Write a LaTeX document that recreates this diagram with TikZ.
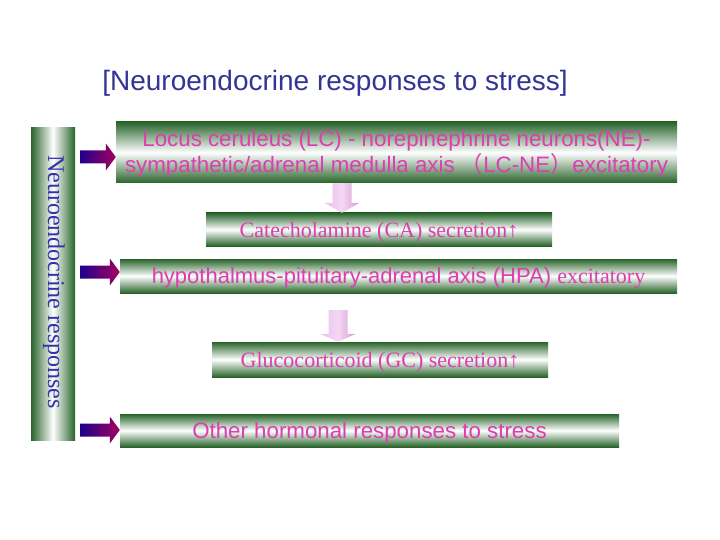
\documentclass[tikz,border=0pt]{standalone}
\usepackage{fontspec}
\setmainfont{Liberation Serif}
\setsansfont{Liberation Sans}
\newfontfamily\cjk{Noto Sans CJK SC}
\usetikzlibrary{calc}
\definecolor{bargreen}{RGB}{40,100,42}
\definecolor{txtpink}{RGB}{222,60,178}
\definecolor{titleblue}{RGB}{52,52,150}
\definecolor{vblue}{RGB}{50,50,170}
\definecolor{arrowblue}{RGB}{30,0,140}
\definecolor{arrowpurple}{RGB}{165,0,95}
\definecolor{pinkfill}{RGB}{236,190,236}
\newcommand\purplearrow[2]{%
  \shade[left color=arrowblue,right color=arrowpurple]
    let \p1=(#1),\p2=(#2) in
    (\x1,\y1+6.5pt) -- (\x2-10pt,\y1+6.5pt) -- (\x2-10pt,\y1+13.5pt) -- (\x2,\y1)
    -- (\x2-10pt,\y1-13.5pt) -- (\x2-10pt,\y1-6.5pt) -- (\x1,\y1-6.5pt) -- cycle;}
% #1 start, #2 end, #3 shaft half width, #4 head half width, #5 head length
\newcommand\downfat[5]{%
  \shade[left color=pinkfill,right color=pinkfill!80!violet,middle color=pinkfill!60!white]
    let \p1=(#1),\p2=(#2) in
    (\x1-#3,\y1) -- (\x1+#3,\y1) -- (\x1+#3,\y2+#5) -- (\x1+#4,\y2+#5) -- (\x1,\y2)
    -- (\x1-#4,\y2+#5) -- (\x1-#3,\y2+#5) -- cycle;}
\tikzset{
  hbar/.style={rectangle, inner sep=0pt, top color=bargreen, bottom color=bargreen,
    middle color=white, text=txtpink, text height=20pt},
  vbar/.style={rectangle, inner sep=0pt, left color=bargreen, right color=bargreen,
    middle color=white, text=vblue},
  sanstxt/.style={font=\sffamily\fontsize{22.3}{26}\selectfont},
  seriftxt/.style={font=\rmfamily\fontsize{22}{26}\selectfont},
}
\begin{document}
\begin{tikzpicture}[x=1pt,y=-1pt]
\useasboundingbox (0,0) rectangle (720,540);
% title
\node[font=\sffamily\fontsize{28}{32}\selectfont, text=titleblue] (title) at (335,83)
  {[Neuroendocrine responses to stress]};
% left vertical bar
\node[vbar, minimum width=44pt, minimum height=312pt] (bar) at (53,284) {};
\node[rotate=-90, text=vblue, font=\rmfamily\fontsize{24}{26}\selectfont] (bartxt) at (54,282)
  {Neuroendocrine responses};
% boxes
\node[hbar, sanstxt, text height=45.5pt, minimum width=561pt, minimum height=61pt, align=center] (b1) at (396.5,152.5)
  {Locus ceruleus (LC) - norepinephrine neurons(NE)-\\
   sympathetic/adrenal medulla axis {\cjk （}LC-NE{\cjk ）}excitatory};
\node[hbar, seriftxt, minimum width=346pt, minimum height=33pt] (b2) at (379,229.5)
  {Catecholamine (CA) secretion↑};
\node[hbar, minimum width=557pt, minimum height=34pt] (b3) at (398.5,276)
  {\sffamily\fontsize{22}{26}\selectfont hypothalmus-pituitary-adrenal axis (HPA) \rmfamily excitatory};
\node[hbar, seriftxt, minimum width=336pt, minimum height=35pt] (b4) at (380,359.5)
  {Glucocorticoid (GC) secretion↑};
\node[hbar, sanstxt, minimum width=499pt, minimum height=33pt] (b5) at (369.5,430.5)
  {Other hormonal responses to stress};
% purple arrows from bar to boxes
\coordinate (s1) at (80,157);
\coordinate (s2) at (80,272);
\coordinate (s3) at (80,430);
\coordinate (e1) at (s1 -| b1.west);
\coordinate (e2) at (s2 -| b3.west);
\coordinate (e3) at (s3 -| b5.west);
\purplearrow{s1}{e1}
\purplearrow{s2}{e2}
\purplearrow{s3}{e3}
% pink arrows between boxes
\coordinate (p1s) at (b1.south -| 342,0);
\coordinate (p1e) at (b2.north -| 342,0);
\coordinate (p2s) at (338,310);
\coordinate (p2e) at (b4.north -| 338,0);
\downfat{p1s}{p1e}{9.5pt}{17.5pt}{10pt}
\downfat{p2s}{p2e}{9.5pt}{18pt}{8pt}
\end{tikzpicture}
\end{document}
